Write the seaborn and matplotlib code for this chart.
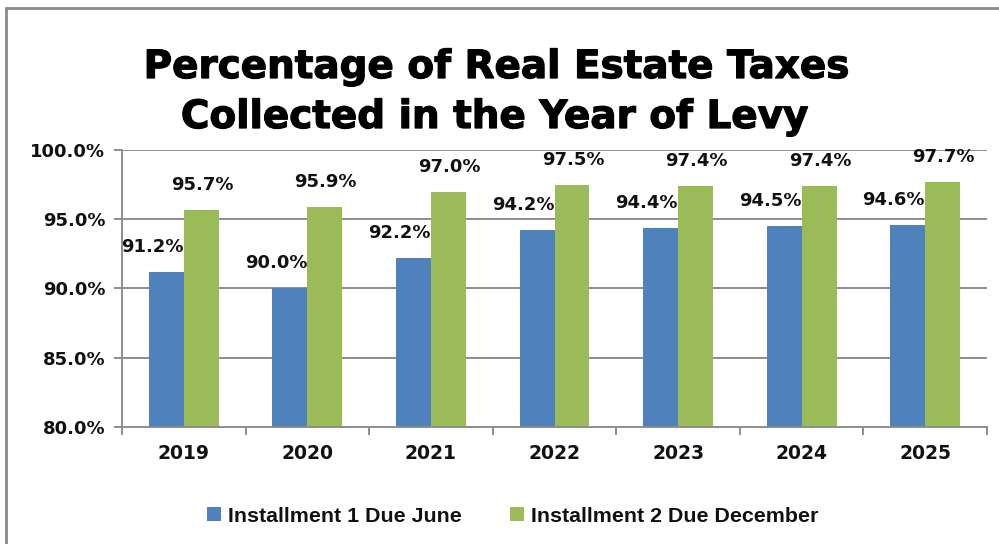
import matplotlib
matplotlib.use("Agg")
import matplotlib.pyplot as plt
import matplotlib.patheffects as pe
from matplotlib.lines import Line2D
from matplotlib.ticker import FixedLocator, FuncFormatter
import pandas as pd
import seaborn as sns

years = ["2019", "2020", "2021", "2022", "2023", "2024", "2025"]
installment_1 = [91.2, 90.0, 92.2, 94.2, 94.4, 94.5, 94.6]
installment_2 = [95.7, 95.9, 97.0, 97.5, 97.4, 97.4, 97.7]
series_names = ["Installment 1 Due June", "Installment 2 Due December"]
y_ticks = [80.0, 85.0, 90.0, 95.0, 100.0]
title_lines = ["Percentage of Real Estate Taxes", "Collected in the Year of Levy"]

colors = ["#4F81BD", "#9BBB59"]
grid_gray = "#8C8C8C"

df = pd.DataFrame({
    "year": years * 2,
    "value": installment_1 + installment_2,
    "series": [series_names[0]] * len(years) + [series_names[1]] * len(years),
})

sns.set_theme(style="white")
plt.rcParams["font.family"] = ["DejaVu Sans"]

fig = plt.figure(figsize=(9.99, 5.44), dpi=100)
ax = fig.add_axes([122 / 999, 1 - 427 / 544, (987 - 122) / 999, (427 - 150) / 544])

sns.barplot(data=df, x="year", y="value", hue="series", palette=colors,
            width=0.565, saturation=1, linewidth=0, edgecolor="none",
            ax=ax, legend=True)

ax.set_ylim(80, 100)
ax.set_xlim(-0.5, len(years) - 0.5)
ax.set_xlabel("")
ax.set_ylabel("")

# horizontal gridlines
ax.yaxis.set_major_locator(FixedLocator(y_ticks))
ax.yaxis.set_major_formatter(FuncFormatter(lambda v, p: f"{v:.1f}%"))
for v in y_ticks[1:]:
    ax.axhline(v, color=grid_gray, lw=1.4, zorder=0)

for side in ["top", "right"]:
    ax.spines[side].set_visible(False)
for side in ["left", "bottom"]:
    ax.spines[side].set_color(grid_gray)
    ax.spines[side].set_linewidth(1.4)

ax.tick_params(axis="y", which="major", direction="out", length=6, width=1.4,
               color=grid_gray, labelsize=13, pad=6, left=True)
for t in ax.get_yticklabels():
    t.set_fontweight("bold")
    t.set_color("#111111")

# category separators along the x axis
ax.xaxis.set_minor_locator(FixedLocator([i - 0.5 for i in range(len(years) + 1)]))
ax.tick_params(axis="x", which="minor", direction="out", length=6, width=1.4,
               color=grid_gray, bottom=True)
ax.tick_params(axis="x", which="major", length=0, labelsize=13.5, pad=12)
for t in ax.get_xticklabels():
    t.set_fontweight("bold")
    t.set_color("#111111")

# value labels above each bar
for idx, container in enumerate(ax.containers):
    values = installment_1 if idx == 0 else installment_2
    dx = -14 if idx == 0 else 1
    for bar, val in zip(container, values):
        ax.annotate(f"{val:.1f}%", (bar.get_x() + bar.get_width() / 2, val),
                    xytext=(dx, 25), textcoords="offset pixels",
                    ha="center", va="center", fontsize=13, fontweight="bold",
                    color="#111111", annotation_clip=False)

# legend below the plot
handles, labels = ax.get_legend_handles_labels()
ax.legend_.remove()
leg = fig.legend(handles, labels, loc="center", bbox_to_anchor=(513 / 999, 1 - 516 / 544),
                 ncol=2, frameon=False, handlelength=0.65, handleheight=0.65,
                 handletextpad=0.33, columnspacing=2.25,
                 prop={"family": "Liberation Sans", "weight": "bold", "size": 15.4})
for t in leg.get_texts():
    t.set_color("#111111")

# two-line title
heavy = [pe.withStroke(linewidth=0.9, foreground="black")]
fig.text(496 / 999, 1 - 78 / 544, title_lines[0], ha="center", va="baseline",
         fontsize=28, fontweight="heavy", color="black", path_effects=heavy)
fig.text(494 / 999, 1 - 128 / 544, title_lines[1], ha="center", va="baseline",
         fontsize=28, fontweight="heavy", color="black", path_effects=heavy)

# outer frame
border = "#8A8A8A"
fig.add_artist(Line2D([6 / 999, 6 / 999], [0, 1 - 8 / 544], transform=fig.transFigure,
                      color=border, lw=2))
fig.add_artist(Line2D([6 / 999, 1], [1 - 8 / 544, 1 - 8 / 544], transform=fig.transFigure,
                      color=border, lw=2))

fig.savefig("out.png", dpi=100)
